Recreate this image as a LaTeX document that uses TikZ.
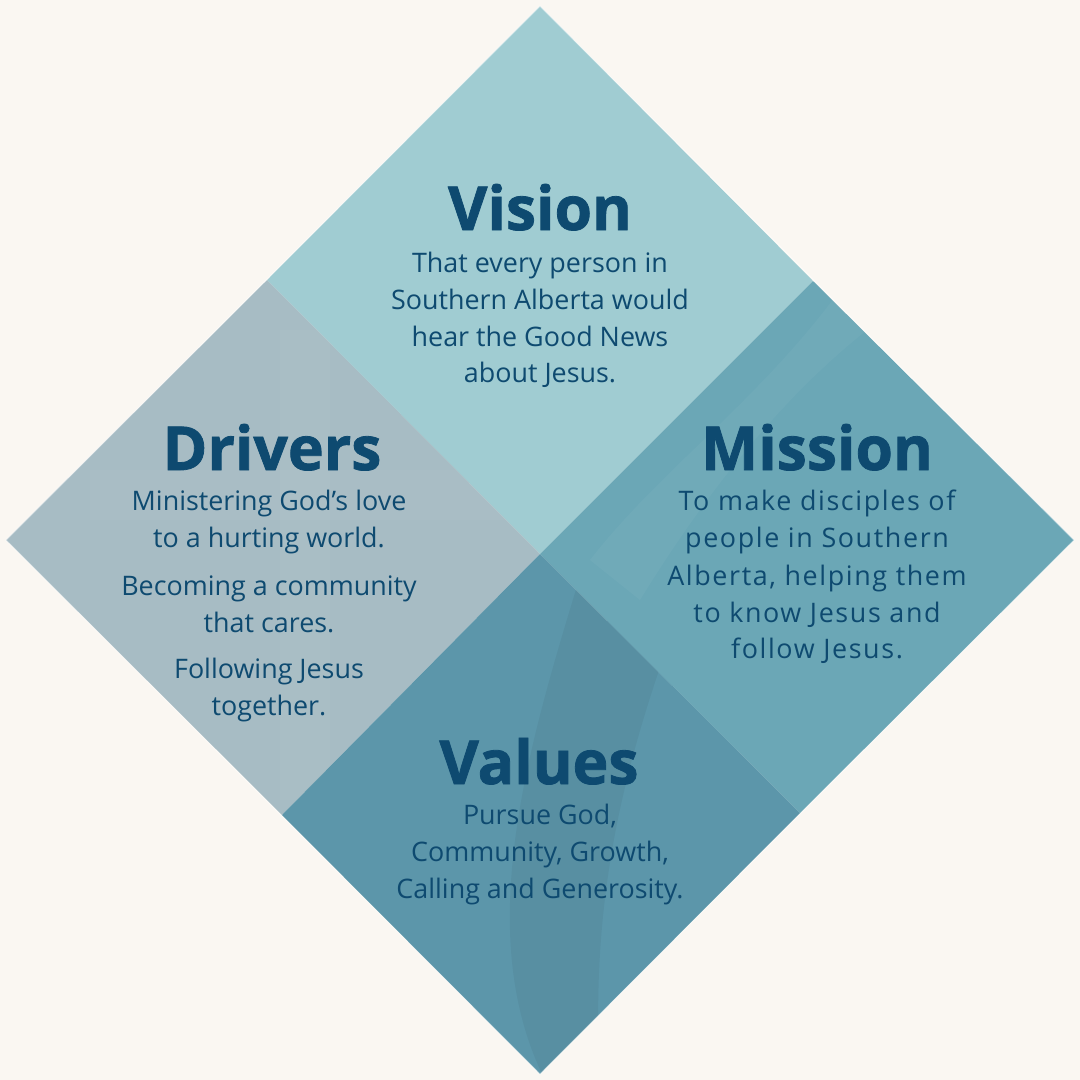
\documentclass[tikz,border=0pt]{standalone}
\usepackage{fontspec}
\setmainfont{Open Sans}
\definecolor{bg}{HTML}{FAF7F2}
\definecolor{ink}{HTML}{0E4A70}
\definecolor{visionc}{HTML}{A0CCD2}
\definecolor{driversc}{HTML}{A7BCC4}
\definecolor{missionc}{HTML}{6BA7B6}
\definecolor{valuesc}{HTML}{5C96AA}
\begin{document}
\begin{tikzpicture}[x=0.02cm,y=-0.02cm,
  titletext/.style={font=\fontsize{34.5}{40}\selectfont\bfseries\addfontfeatures{FakeBold=1.3}, text=ink, anchor=base, inner sep=0pt},
  bodytext/.style={font=\fontsize{15.3}{21}\selectfont, text=ink, anchor=base, inner sep=0pt},
  widetext/.style={font=\fontsize{15.3}{21}\selectfont\addfontfeatures{LetterSpace=6}, text=ink, anchor=base, inner sep=0pt},
  edge/.style={draw=white, draw opacity=0.45, line width=0.6pt}]
\fill[bg] (0,0) rectangle (1080,1080);
\useasboundingbox (0,0) rectangle (1080,1080);
% corner points
\coordinate (T) at (540,6);
\coordinate (L) at (6,540);
\coordinate (R) at (1074,540);
\coordinate (B) at (540,1074);
\coordinate (C) at (540,554);
\coordinate (TL) at (267,280);
\coordinate (TR) at (813,281);
\coordinate (BL) at (282,815);
\coordinate (BR) at (800,813);
% quadrants
\fill[visionc] (T) -- (TR) -- (C) -- (TL) -- cycle;
\fill[driversc] (TL) -- (C) -- (BL) -- (L) -- cycle;
\fill[missionc] (TR) -- (R) -- (BR) -- (C) -- cycle;
\fill[valuesc] (C) -- (BR) -- (B) -- (BL) -- cycle;
% faint watermark shapes
\begin{scope}
\clip (C) -- (BR) -- (B) -- (BL) -- cycle;
\fill[black, opacity=0.045] (585,560) .. controls (530,740) and (470,930) .. (545,1080)
  -- (600,1080) .. controls (590,900) and (620,760) .. (700,560) -- cycle;
\end{scope}
\begin{scope}
\clip (TL) -- (C) -- (BL) -- (L) -- cycle;
\fill[white, opacity=0.03] (280,330) rectangle (330,800);
\fill[white, opacity=0.025] (90,470) rectangle (520,520);
\end{scope}
\begin{scope}
\clip (TR) -- (R) -- (BR) -- (C) -- cycle;
\fill[white, opacity=0.035] (840,290) .. controls (760,400) and (660,470) .. (590,560)
  -- (640,600) .. controls (720,470) and (800,380) .. (880,320) -- cycle;
\end{scope}
\draw[edge] (T) -- (R) -- (B) -- (L) -- cycle;
% titles
\node[titletext] (vision) at (540,230) {Vision};
\node[titletext] (drivers) at (272,470) {Drivers};
\node[titletext] (mission) at (817,470) {Mission};
\node[titletext] (values) at (539,784) {Values};
% bodies
\foreach \t/\yy [count=\i] in {{That every person in}/272, {Southern Alberta would}/309, {hear the Good News}/346, {about Jesus.}/382}
  \node[bodytext] (vision-\i) at (540,\yy) {\t};
\foreach \t/\yy [count=\i] in {{Ministering God’s love}/510, {to a hurting world.}/547, {Becoming a community}/595, {that cares.}/632, {Following Jesus}/678, {together.}/715}
  \node[bodytext] (drivers-\i) at (269,\yy) {\t};
\foreach \t/\yy [count=\i] in {{To make disciples of}/510, {people in Southern}/547, {Alberta, helping them}/585, {to know Jesus and}/622, {follow Jesus.}/658}
  \node[widetext] (mission-\i) at (817,\yy) {\t};
\foreach \t/\yy [count=\i] in {{Pursue God,}/824, {Community, Growth,}/861, {Calling and Generosity.}/898}
  \node[bodytext] (values-\i) at (540,\yy) {\t};
\end{tikzpicture}
\end{document}
